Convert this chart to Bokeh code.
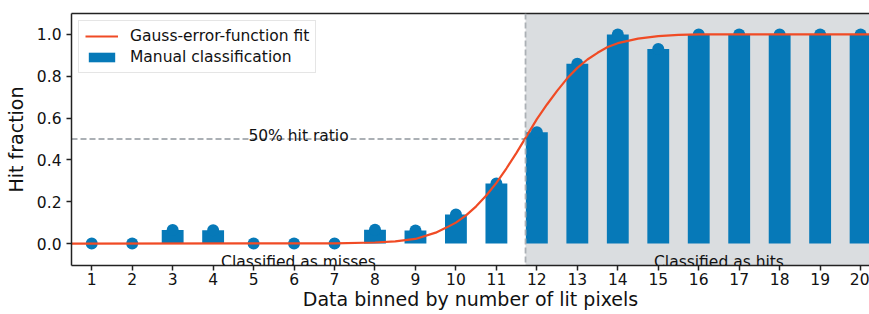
from bokeh.plotting import figure
from bokeh.models import (Range1d, BoxAnnotation, Span, LinearAxis, FixedTicker,
                          Legend, LegendItem, Label)
from bokeh.embed import file_html
from bokeh.resources import INLINE

# ---- data ----
bins = list(range(1, 21))
hit_fraction = [0.0, 0.0, 0.065, 0.063, 0.0, 0.0, 0.0, 0.066, 0.062, 0.139,
                0.287, 0.532, 0.86, 1.0, 0.93, 1.0, 1.0, 1.0, 1.0, 1.0]
fit_x = [0.5, 7.0, 8.0, 8.5, 9.0, 9.5, 9.75, 10.0, 10.25, 10.5, 10.75, 11.0,
         11.25, 11.5, 11.75, 12.0, 12.25, 12.5, 12.75, 13.0, 13.25, 13.5,
         13.75, 14.0, 14.5, 15.0, 15.5, 16.0, 20.5]
fit_y = [0.0, 0.001, 0.005, 0.01, 0.022, 0.052, 0.075, 0.1, 0.135, 0.178,
         0.23, 0.29, 0.36, 0.435, 0.515, 0.595, 0.665, 0.73, 0.79, 0.84,
         0.88, 0.912, 0.94, 0.958, 0.98, 0.992, 0.998, 1.0, 1.0]
threshold = 11.72
half_level = 0.5
tick_labels = [str(b) for b in bins]

FONT = "DejaVu Sans"
BLUE = "#0679b8"
RED = "#f04b25"
GRAY = "#abb0b5"
TXT = "#111111"

x_lo, x_hi = 0.5, 20.22
p = figure(width=869, height=314, output_backend="svg", toolbar_location=None,
           x_range=Range1d(x_lo, x_hi), y_range=Range1d(-0.105, 1.10),
           min_border_left=71, min_border_right=0, min_border_top=13,
           min_border_bottom=49)
p.outline_line_color = None
p.xgrid.visible = False
p.ygrid.visible = False
p.background_fill_color = "white"

# shaded "hits" region
p.add_layout(BoxAnnotation(left=threshold, fill_color="#dadde0", fill_alpha=1.0,
                           line_color=None, level="underlay"))
p.add_layout(Span(location=threshold, dimension="height", line_color=GRAY,
                  line_width=1.8, line_dash="6 3"))
p.line([x_lo, threshold], [half_level, half_level], line_color=GRAY,
       line_width=1.8, line_dash="6 3")

bars = p.vbar(x=bins, top=hit_fraction, width=0.54, fill_color=BLUE,
              line_color=None)
p.scatter(x=bins, y=hit_fraction, size=12, fill_color=BLUE, line_color=None)
fit = p.line(fit_x, fit_y, line_color=RED, line_width=2.2)

# texts
for x, y, t in [((x_lo + threshold) / 2, 0.515, "50% hit ratio"),
                ((x_lo + threshold) / 2, -0.09, "Classified as misses"),
                (16.5, -0.09, "Classified as hits")]:
    p.add_layout(Label(x=x, y=y, text=t, text_align="center",
                       text_baseline="alphabetic", text_font=FONT,
                       text_font_size="15.5px", text_color=TXT))

# axes
for ax in (p.xaxis[0], p.yaxis[0]):
    ax.axis_line_width = 1.5
    ax.axis_line_color = "#222222"
    ax.major_tick_line_width = 1.5
    ax.major_tick_line_color = "#222222"
    ax.major_tick_out = 5
    ax.major_tick_in = 0
    ax.minor_tick_line_color = None
    ax.major_label_text_font = FONT
    ax.major_label_text_font_size = "15.5px"
    ax.major_label_text_color = TXT
    ax.axis_label_text_font = FONT
    ax.axis_label_text_font_size = "19px"
    ax.axis_label_text_font_style = "normal"
    ax.axis_label_text_color = TXT

p.xaxis.ticker = FixedTicker(ticks=bins)
p.xaxis.major_label_overrides = {b: t for b, t in zip(bins, tick_labels)}
p.xaxis.major_label_standoff = 2
p.xaxis.axis_label = "Data binned by number of lit pixels"
p.xaxis.axis_label_standoff = 0

p.yaxis.ticker = FixedTicker(ticks=[0.0, 0.2, 0.4, 0.6, 0.8, 1.0])
p.yaxis.major_label_overrides = {0.0: "0.0", 0.2: "0.2", 0.4: "0.4",
                                 0.6: "0.6", 0.8: "0.8", 1.0: "1.0"}
p.yaxis.major_label_standoff = 5
p.yaxis.axis_label = "Hit fraction"
p.yaxis.axis_label_standoff = 7

top_axis = LinearAxis(ticker=FixedTicker(ticks=[]), axis_line_width=1.5,
                      axis_line_color="#222222", major_tick_line_color=None,
                      minor_tick_line_color=None, major_label_text_font_size="0px")
p.add_layout(top_axis, "above")

legend = Legend(items=[LegendItem(label="Gauss-error-function fit", renderers=[fit]),
                       LegendItem(label="Manual classification", renderers=[bars])],
                location="top_left", margin=7, padding=6, spacing=3,
                label_text_font=FONT, label_text_font_size="15.5px",
                label_text_color=TXT, glyph_width=33, glyph_height=12,
                label_standoff=12, border_line_color="#cccccc",
                background_fill_color="white", background_fill_alpha=0.85)
p.add_layout(legend)

open("out.html", "w").write(file_html(p, INLINE))
